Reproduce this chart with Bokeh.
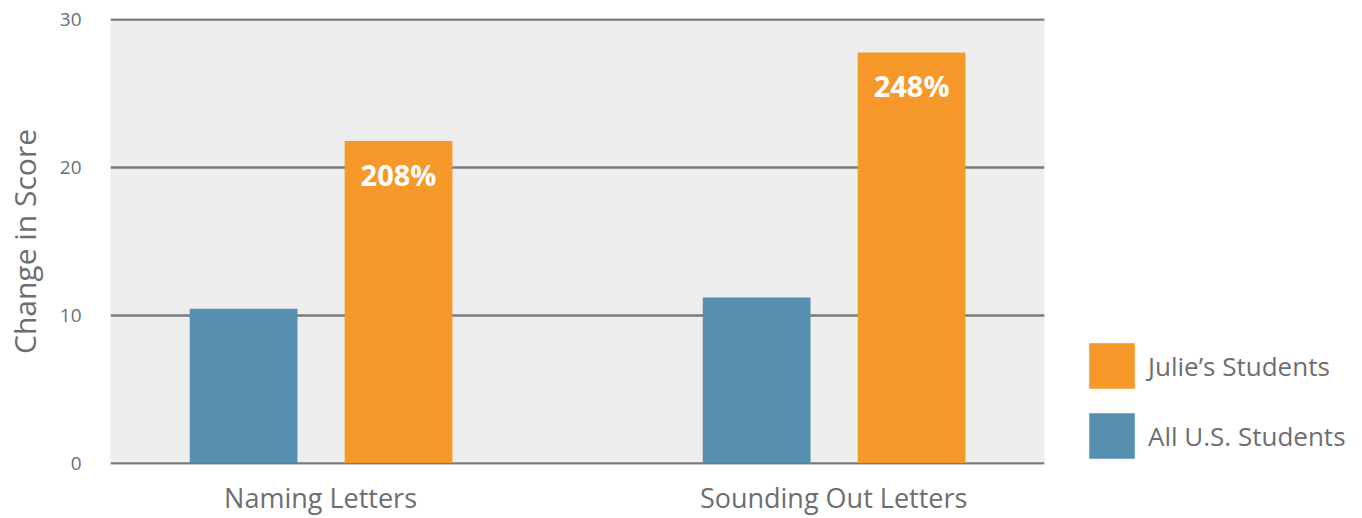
from bokeh.plotting import figure
from bokeh.models import ColumnDataSource, Range1d, FixedTicker, Legend, LegendItem
from bokeh.core.properties import value
from bokeh.embed import file_html
from bokeh.resources import INLINE

categories = ["Naming Letters", "Sounding Out Letters"]
series_names = ["Julie\u2019s Students", "All U.S. Students"]
all_us = [10.45, 11.2]
julie = [21.8, 27.8]
pct_labels = ["208%", "248%"]
y_ticks = [0, 10, 20, 30]

FONT = "Open Sans"
TEXT = "#6d6e71"
BLUE = "#568fb0"
ORANGE = "#f6992a"

centers = [0.5 + i for i in range(len(categories))]
blue_x = [c - 0.15 for c in centers]
orange_x = [c + 0.152 for c in centers]

src_blue = ColumnDataSource(dict(x=blue_x, top=all_us))
src_orange = ColumnDataSource(dict(x=orange_x, top=julie, lab=pct_labels))

p = figure(frame_width=934, frame_height=446, output_backend="svg", toolbar_location=None,
           x_range=Range1d(0.0906, 1.911), y_range=Range1d(-0.1, 30.1),
           min_border_left=90, min_border_top=18, min_border_bottom=0, min_border_right=0)
p.background_fill_color = "#eeeeee"
p.border_fill_color = "white"
p.outline_line_color = None

p.ygrid.ticker = FixedTicker(ticks=y_ticks)
p.ygrid.grid_line_color = "#7a7a7c"
p.ygrid.grid_line_width = 2.5
p.ygrid.level = "underlay"
p.xgrid.grid_line_color = None

rb = p.vbar(x="x", top="top", bottom=0, width=0.21, source=src_blue, fill_color=BLUE, line_color=None)
ro = p.vbar(x="x", top="top", bottom=0, width=0.21, source=src_orange, fill_color=ORANGE, line_color=None)

p.text(x="x", y="top", text="lab", source=src_orange, text_align="center", text_baseline="top",
       y_offset=14, text_color="white", text_font=value(FONT), text_font_style="bold",
       text_font_size="29px")

# axes
p.xaxis.ticker = FixedTicker(ticks=centers)
p.xaxis.major_label_overrides = {c: n for c, n in zip(centers, categories)}
p.xaxis.axis_line_color = None
p.xaxis.major_tick_line_color = None
p.xaxis.minor_tick_line_color = None
p.xaxis.major_label_text_font = FONT
p.xaxis.major_label_text_font_size = "27px"
p.xaxis.major_label_text_color = TEXT
p.xaxis.major_label_standoff = 8

p.yaxis.ticker = FixedTicker(ticks=y_ticks)
p.yaxis.axis_line_color = None
p.yaxis.major_tick_line_color = None
p.yaxis.minor_tick_line_color = None
p.yaxis.major_label_text_font = FONT
p.yaxis.major_label_text_font_size = "19px"
p.yaxis.major_label_text_color = TEXT
p.yaxis.major_label_standoff = 23
p.yaxis.axis_label = "Change in Score"
p.yaxis.axis_label_text_font = FONT
p.yaxis.axis_label_text_font_size = "30px"
p.yaxis.axis_label_text_font_style = "normal"
p.yaxis.axis_label_text_color = TEXT
p.yaxis.axis_label_standoff = 12

legend = Legend(items=[LegendItem(label=series_names[0], renderers=[ro]),
                       LegendItem(label=series_names[1], renderers=[rb])],
                location=(39, 0), orientation="vertical")
legend.glyph_width = 57
legend.glyph_height = 57
legend.label_height = 57
legend.spacing = 13
legend.label_standoff = 8
legend.padding = 0
legend.margin = 0
legend.border_line_color = None
legend.background_fill_alpha = 0
legend.label_text_font = FONT
legend.label_text_font_size = "26px"
legend.label_text_color = TEXT
p.add_layout(legend, "right")
p.min_border_right = 300

open("out.html", "w").write(file_html(p, INLINE))
